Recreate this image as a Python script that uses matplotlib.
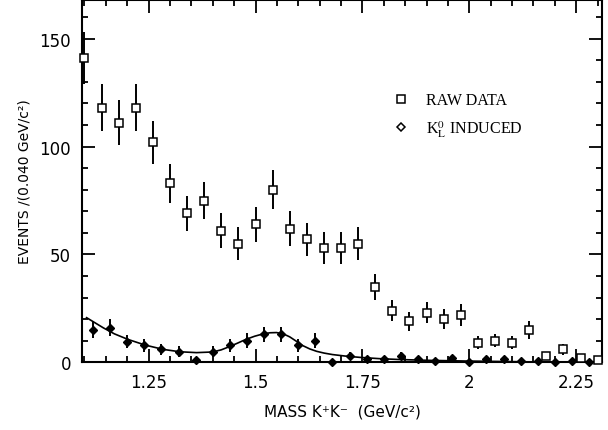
import numpy as np
import matplotlib
matplotlib.use("Agg")
import matplotlib.pyplot as plt
from matplotlib.lines import Line2D
from matplotlib.ticker import MultipleLocator, FixedLocator

# raw K+K- mass spectrum, 0.040 GeV bins
mass_raw = [1.10, 1.14, 1.18, 1.22, 1.26, 1.30, 1.34, 1.38, 1.42, 1.46,
            1.50, 1.54, 1.58, 1.62, 1.66, 1.70, 1.74, 1.78, 1.82, 1.86,
            1.90, 1.94, 1.98, 2.02, 2.06, 2.10, 2.14, 2.18, 2.22, 2.26, 2.30]
events_raw = [141, 118, 111, 118, 102, 83, 69, 75, 61, 55,
              64, 80, 62, 57, 53, 53, 55, 35, 24, 19,
              23, 20, 22, 9, 10, 9, 15, 3, 6, 2, 1]
err_raw = [12, 11, 10.5, 11, 10, 9, 8, 8.5, 8, 7.5,
           8, 9, 8, 7.5, 7.5, 7.5, 7.5, 6, 5, 4.5,
           5, 4.5, 5, 3, 3, 3, 4, 2, 2.5, 1.5, 1]

# K0_L induced background
mass_kl = [1.12, 1.16, 1.20, 1.24, 1.28, 1.32, 1.36, 1.40, 1.44, 1.48,
           1.52, 1.56, 1.60, 1.64, 1.68, 1.72, 1.76, 1.80, 1.84, 1.88,
           1.92, 1.96, 2.00, 2.04, 2.08, 2.12, 2.16, 2.20, 2.24, 2.28]
events_kl = [15, 16, 9.5, 8, 6, 5, 1, 5, 8, 10,
             13, 13, 8, 10, 0, 3, 1.5, 1.5, 3, 1.5,
             0.5, 2, 0.3, 1.5, 1.5, 0.5, 0.5, 0, 0.5, 0]
err_kl = [3.5, 4, 3, 3, 2.5, 2.5, 0.8, 2.5, 3, 3.5,
          3.5, 3.5, 3, 3.5, 0, 2, 1.5, 1.5, 2, 1.5,
          1, 1.5, 1, 1.5, 1.5, 1, 1, 0, 1, 0]

# fitted curve through the K0_L points
curve_x = [1.105, 1.144, 1.170, 1.202, 1.242, 1.284, 1.323, 1.362, 1.400,
           1.420, 1.438, 1.458, 1.477, 1.498, 1.518, 1.534, 1.549, 1.565,
           1.580, 1.596, 1.611, 1.627, 1.643, 1.660, 1.680, 1.710, 1.744,
           1.790, 1.837, 1.910, 1.993, 2.070, 2.149, 2.230, 2.300]
curve_y = [20.7, 16.0, 13.2, 10.6, 8.0, 6.0, 4.9, 4.5, 4.8,
           5.8, 7.2, 8.9, 10.6, 12.1, 13.2, 13.7, 13.8, 13.2,
           11.8, 9.7, 7.7, 6.2, 5.1, 4.3, 3.6, 2.9, 2.3,
           1.7, 1.3, 0.9, 0.6, 0.4, 0.2, 0.1, 0.0]

fig = plt.figure(figsize=(6.08, 4.31), dpi=100)
ax = fig.add_axes([0.1354, 0.157, 0.8546, 0.841])

ax.errorbar(mass_raw, events_raw, yerr=err_raw, fmt="s", ms=5.8,
            mfc="white", mec="black", mew=1.1, ecolor="black",
            elinewidth=1.4, capsize=0, clip_on=False, zorder=3)
ax.errorbar(mass_kl, events_kl, yerr=err_kl, fmt="D", ms=4.3,
            mfc="black", mec="black", mew=1.0, ecolor="black",
            elinewidth=1.4, capsize=0, clip_on=False, zorder=3)
ax.plot(curve_x, curve_y, color="black", lw=1.2, zorder=2)

ax.set_xlim(1.095, 2.31)
ax.set_ylim(0, 168)

ax.xaxis.set_major_locator(FixedLocator([1.25, 1.5, 1.75, 2.0, 2.25]))
ax.set_xticklabels(["1.25", "1.5", "1.75", "2", "2.25"])
ax.xaxis.set_minor_locator(MultipleLocator(0.05))
ax.yaxis.set_major_locator(MultipleLocator(50))
ax.yaxis.set_minor_locator(MultipleLocator(10))

ax.tick_params(which="both", direction="in", top=True, right=True,
               width=1.3, labelsize=12, pad=8)
ax.tick_params(which="major", length=9.5)
ax.tick_params(which="minor", length=4)
for s in ax.spines.values():
    s.set_linewidth(1.5)

ax.set_xlabel("MASS K\u207aK\u207b  (GeV/c\u00b2)", fontsize=11, labelpad=9)
ax.set_ylabel("EVENTS /(0.040 GeV/c\u00b2)", fontsize=10, labelpad=6)

plt.rcParams["mathtext.fontset"] = "stix"
handles = [Line2D([], [], ls="none", marker="s", ms=5.5, mfc="white",
                  mec="black", mew=1.1),
           Line2D([], [], ls="none", marker="D", ms=4.5, mfc="white",
                  mec="black", mew=1.1)]
ax.legend(handles, ["RAW DATA", "K$_\\mathrm{L}^\\mathrm{0}$ INDUCED"],
          loc="upper left", bbox_to_anchor=(0.57, 0.785), frameon=False,
          handlelength=1.0, handletextpad=1.1, labelspacing=0.6,
          prop={"family": "Liberation Serif", "size": 11.5})

fig.savefig("out.png", dpi=100)
